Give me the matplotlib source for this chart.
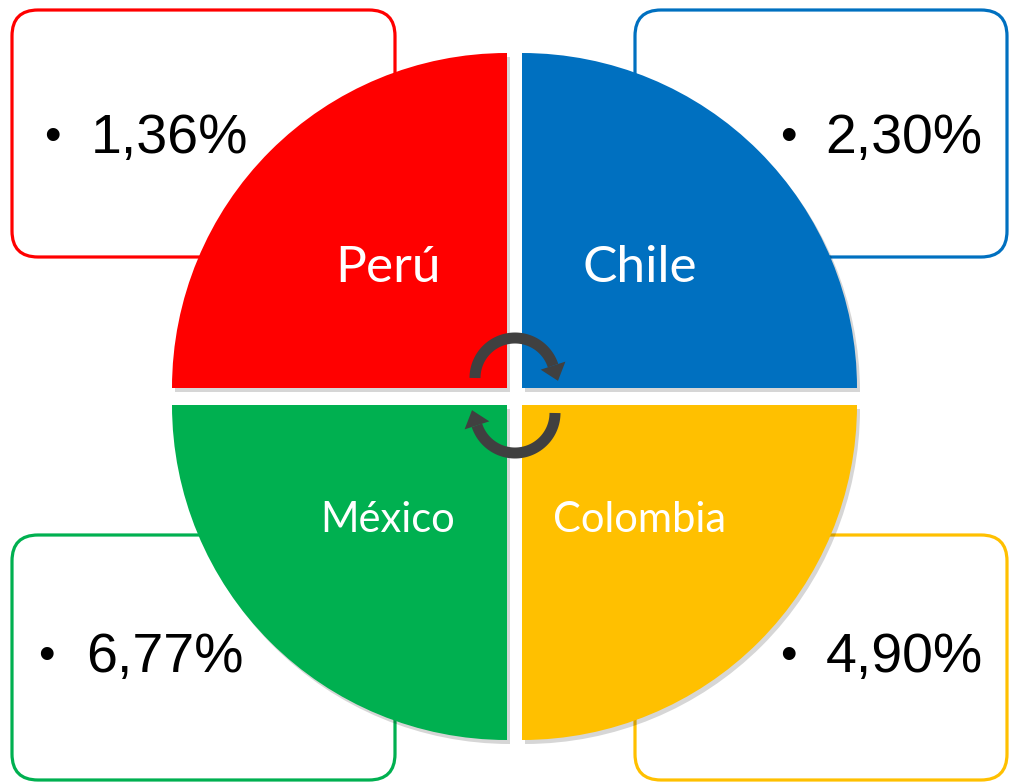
# Four-quadrant cycle diagram with rate boxes
import numpy as np
import matplotlib.pyplot as plt
from matplotlib.patches import Wedge, FancyBboxPatch, Polygon

countries = ['Perú', 'Chile', 'México', 'Colombia']
rates = ['1,36%', '2,30%', '6,77%', '4,90%']
colors = ['#FF0000', '#0070C0', '#00B050', '#FFC000']

W, H = 1009, 782
fig = plt.figure(figsize=(W / 100, H / 100), dpi=100)
ax = fig.add_axes([0, 0, 1, 1])
ax.set_xlim(0, W)
ax.set_ylim(H, 0)
ax.set_aspect('equal')
ax.axis('off')

# layout per quadrant: box (x, y, w, h), wedge corner, wedge angles, label pos, label size, bullet x, text x, baseline
R = 335
layout = [
    dict(box=(12, 10, 383, 247), corner=(507, 388), ang=(180, 270), lab=(388, 268), fs=37, bx=52, tx=91, by=153),
    dict(box=(635, 10, 372, 247), corner=(522, 388), ang=(270, 360), lab=(640, 268), fs=37, bx=788, tx=825, by=153),
    dict(box=(12, 535, 383, 245), corner=(507, 405), ang=(90, 180), lab=(388, 520), fs=30, bx=46, tx=86, by=672),
    dict(box=(635, 535, 372, 245), corner=(522, 405), ang=(0, 90), lab=(640, 520), fs=30, bx=788, tx=826, by=672),
]

for name, rate, col, lay in zip(countries, rates, colors, layout):
    x, y, w, h = lay['box']
    ax.add_patch(FancyBboxPatch((x, y), w, h, boxstyle='round,pad=0,rounding_size=26',
                                facecolor='white', edgecolor=col, linewidth=2.3, zorder=1))
    ax.text(lay['bx'], lay['by'] - 15, '•', fontsize=34, family='Liberation Sans',
            ha='center', va='center', color='black', zorder=2)
    ax.text(lay['tx'], lay['by'], rate, fontsize=40, family='Liberation Sans',
            ha='left', va='baseline', color='black', zorder=2)

for name, col, lay in zip(countries, colors, layout):
    cx, cy = lay['corner']
    # y axis is inverted: data angles already match the screen quadrants
    a1, a2 = lay['ang']
    ax.add_patch(Wedge((cx + 3, cy + 4), R, a1, a2, facecolor='#000000', alpha=0.16,
                       edgecolor='none', zorder=3))
    ax.add_patch(Wedge((cx, cy), R, a1, a2, facecolor=col, edgecolor='none', zorder=4))
    ax.text(lay['lab'][0], lay['lab'][1], name, fontsize=lay['fs'], family='Lato',
            color='white', ha='center', va='center', zorder=5)


def circ_arrow(cx, cy, r, t0, t1, lw=11):
    # arc from t0 to t1 (math degrees, y up), arrowhead at t1
    t = np.radians(np.linspace(t0, t1, 80))
    xs = cx + r * np.cos(t)
    ys = cy - r * np.sin(t)
    ax.plot(xs, ys, color='#404040', lw=lw * 0.72, solid_capstyle='butt', zorder=6)
    te = np.radians(t1)
    d = np.sign(t1 - t0)
    # tangent direction in display coords (y down)
    tx, ty = -np.sin(te) * d, -np.cos(te) * d
    nx, ny = np.cos(te), -np.sin(te)
    ex, ey = cx + r * np.cos(te), cy - r * np.sin(te)
    hw, hl = 13, 16
    pts = [(ex + nx * hw, ey + ny * hw), (ex - nx * hw, ey - ny * hw), (ex + tx * hl, ey + ty * hl)]
    ax.add_patch(Polygon(pts, closed=True, facecolor='#404040', edgecolor='none', zorder=6))


circ_arrow(515, 378, 40, 180, 18)
circ_arrow(515, 413, 40, 0, -162)

fig.savefig('out.png', dpi=100)
